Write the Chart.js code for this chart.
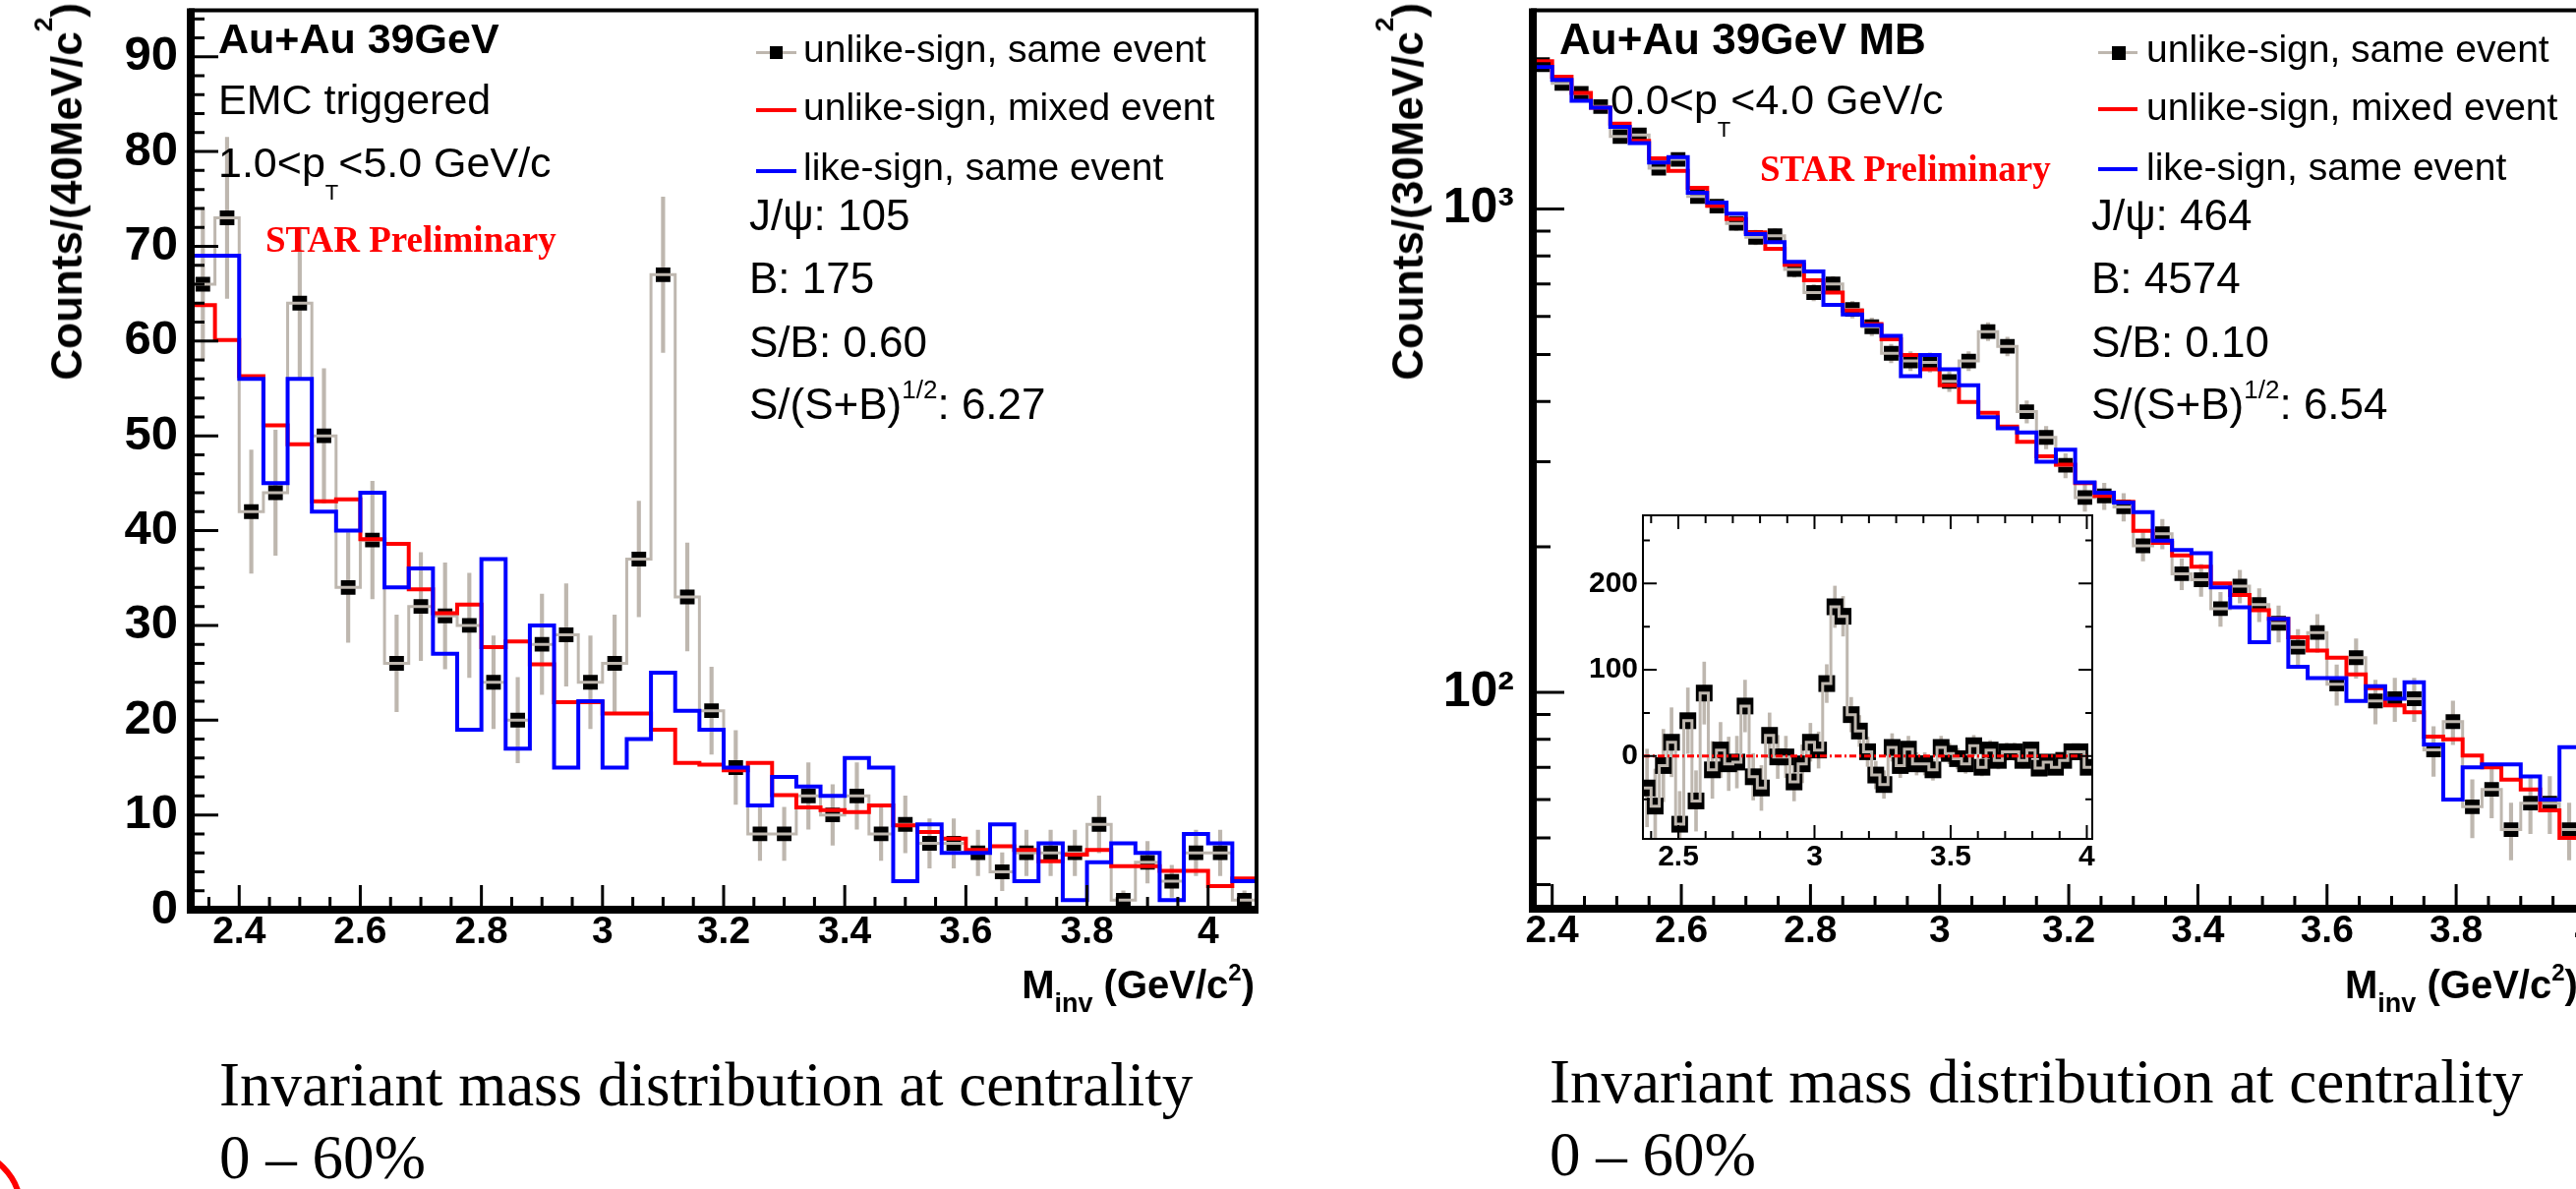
<!DOCTYPE html>
<html>
<head>
<meta charset="utf-8">
<script src="https://cdn.jsdelivr.net/npm/chart.js@4.4.1/dist/chart.umd.min.js"></script>
<style>
  html, body { margin:0; padding:0; background:#fff; }
  #wrap { position:relative; width:2620px; height:1209px; overflow:hidden; background:#fff; }
  canvas { position:absolute; }
  .t { position:absolute; white-space:nowrap; line-height:1; color:#000; z-index:5;
       font-family:'Liberation Sans', Arial, Helvetica, sans-serif; }
  .b { font-weight:bold; }
  .vt { writing-mode:vertical-rl; transform:rotate(180deg); }
  .star { font-family:'Liberation Serif', 'Times New Roman', serif; font-weight:bold; color:#f00; font-size:37px; }
  .cap { position:absolute; white-space:nowrap; font-family:'Liberation Serif', 'Times New Roman', serif;
         font-size:63px; line-height:74px; color:#000; }
  .ln { position:absolute; z-index:5; }
  sub, sup { line-height:0; }
</style>
</head>
<body>
<div id="wrap">
  <canvas id="cL" width="1300" height="1000" style="left:0;top:0"></canvas>
  <canvas id="cR" width="1320" height="1000" style="left:1380px;top:0"></canvas>
  <canvas id="cI" width="550" height="390" style="left:1590px;top:505px"></canvas>

  <!-- left panel texts -->
  <div class="t b vt" style="left:44px;bottom:822px;font-size:44px">Counts/(40MeV/c<sup style="font-size:26px;vertical-align:24px">2</sup>)</div>
  <div class="t b" style="right:1344px;top:981px;font-size:40px">M<sub style="font-size:27px;vertical-align:-14px">inv</sub> (GeV/c<sup style="font-size:24px;vertical-align:18px">2</sup>)</div>
  <div class="t b" style="left:222px;top:18px;font-size:43px">Au+Au 39GeV</div>
  <div class="t" style="left:222px;top:80px;font-size:43px">EMC triggered</div>
  <div class="t" style="left:222px;top:144px;font-size:43px">1.0&lt;p<sub style="font-size:22px;vertical-align:-23px">T</sub>&lt;5.0 GeV/c</div>
  <div class="t star" style="left:270px;top:225px">STAR Preliminary</div>

  <div class="ln" style="left:769px;top:52px;width:41px;height:3px;background:#beb7af"></div>
  <div class="ln" style="left:783px;top:47px;width:13px;height:13px;background:#000"></div>
  <div class="ln" style="left:769px;top:110px;width:41px;height:4px;background:#f00"></div>
  <div class="ln" style="left:769px;top:172px;width:41px;height:4px;background:#00f"></div>
  <div class="t" style="left:817px;top:30px;font-size:39px">unlike-sign, same event</div>
  <div class="t" style="left:817px;top:89px;font-size:39px">unlike-sign, mixed event</div>
  <div class="t" style="left:817px;top:150px;font-size:39px">like-sign, same event</div>
  <div class="t" style="left:762px;top:197px;font-size:44px">J/ψ: 105</div>
  <div class="t" style="left:762px;top:261px;font-size:44px">B: 175</div>
  <div class="t" style="left:762px;top:326px;font-size:44px">S/B: 0.60</div>
  <div class="t" style="left:762px;top:389px;font-size:44px">S/(S+B)<sup style="font-size:26px;vertical-align:21px">1/2</sup>: 6.27</div>

  <!-- right panel texts -->
  <div class="t b vt" style="left:1408px;bottom:822px;font-size:44px">Counts/(30MeV/c<sup style="font-size:26px;vertical-align:24px">2</sup>)</div>
  <div class="t b" style="left:2385px;top:981px;font-size:40px">M<sub style="font-size:27px;vertical-align:-14px">inv</sub> (GeV/c<sup style="font-size:24px;vertical-align:18px">2</sup>)</div>
  <div class="t b" style="left:1586px;top:18px;font-size:44px">Au+Au 39GeV MB</div>
  <div class="t" style="left:1638px;top:80px;font-size:43px">0.0&lt;p<sub style="font-size:22px;vertical-align:-23px">T</sub>&lt;4.0 GeV/c</div>
  <div class="t star" style="left:1790px;top:153px">STAR Preliminary</div>

  <div class="ln" style="left:2134px;top:52px;width:40px;height:3px;background:#beb7af"></div>
  <div class="ln" style="left:2148px;top:47px;width:14px;height:14px;background:#000"></div>
  <div class="ln" style="left:2134px;top:109px;width:40px;height:4px;background:#f00"></div>
  <div class="ln" style="left:2134px;top:170px;width:40px;height:4px;background:#00f"></div>
  <div class="t" style="left:2183px;top:30px;font-size:39px">unlike-sign, same event</div>
  <div class="t" style="left:2183px;top:89px;font-size:39px">unlike-sign, mixed event</div>
  <div class="t" style="left:2183px;top:150px;font-size:39px">like-sign, same event</div>
  <div class="t" style="left:2127px;top:197px;font-size:44px">J/ψ: 464</div>
  <div class="t" style="left:2127px;top:261px;font-size:44px">B: 4574</div>
  <div class="t" style="left:2127px;top:326px;font-size:44px">S/B: 0.10</div>
  <div class="t" style="left:2127px;top:389px;font-size:44px">S/(S+B)<sup style="font-size:26px;vertical-align:21px">1/2</sup>: 6.54</div>

  <!-- captions -->
  <div class="cap" style="left:223px;top:1066px">Invariant mass distribution at centrality<br>0 – 60%</div>
  <div class="cap" style="left:1576px;top:1063px">Invariant mass distribution at centrality<br>0 – 60%</div>

  <div style="position:absolute;left:-104px;top:1166px;width:128px;height:128px;box-sizing:border-box;border:6px solid #f00;border-radius:50%"></div>
</div>

<script>
// ---- left panel: EMC triggered, 40 MeV bins from 2.32 ----
const leftLo = 2.32, leftBin = 0.04;
const leftSame = [66, 73, 42, 44, 64, 50, 34, 39, 26, 32, 31, 30, 24, 20, 28, 29, 24, 26, 37, 67,
                  33, 21, 15, 8, 8, 12, 10, 12, 8, 9, 7, 7, 6, 4, 6, 6, 6, 9, 1, 5, 3, 6, 6, 1];
const leftSameErr = [8.1, 8.5, 6.5, 6.6, 8, 7.1, 5.8, 6.2, 5.1, 5.7, 5.6, 5.5, 4.9, 4.5, 5.3, 5.4, 4.9, 5.1, 6.1, 8.2,
                     5.7, 4.6, 3.9, 2.8, 2.8, 3.5, 3.2, 3.5, 2.8, 3, 2.6, 2.6, 2.4, 2, 2.4, 2.4, 2.4, 3, 1, 2.2, 1.7, 2.4, 2.4, 1];
const leftMixed = [63.8, 60.1, 56.3, 51.1, 49.1, 43.1, 43.3, 39.1, 38.6, 33.8, 31.3, 32.2, 27.7, 28.3, 25.9, 21.9, 21.9, 20.7, 20.7, 19.0,
                   15.5, 15.3, 14.7, 15.5, 12.1, 10.8, 10.5, 10.3, 11.0, 8.9, 8.2, 7.5, 6.3, 6.7, 6.3, 5.1, 5.8, 6.3, 4.6, 4.6, 4.1, 4.1, 2.5, 3.3];
const leftLike = [69, 69, 56, 45, 56, 42, 40, 44, 34, 36, 27, 19, 37, 17, 30, 15, 22, 15, 18, 25,
                  21, 19, 15, 11, 14, 13, 12, 16, 15, 3, 9, 6, 6, 9, 3, 7, 1, 5, 7, 6, 1, 8, 7, 3];
const leftXTicks = [2.4, 2.6, 2.8, 3, 3.2, 3.4, 3.6, 3.8, 4];
const leftYTicks = [0, 10, 20, 30, 40, 50, 60, 70, 80, 90];

// ---- right panel: minimum bias, 30 MeV bins from 2.37 ----
const rightLo = 2.37, rightBin = 0.03;
const rightSame = [1990, 1820, 1735, 1630, 1413, 1424, 1215, 1267, 1062, 1014, 934, 874, 881, 750, 672, 700, 620, 571, 503, 485,
                   482, 440, 485, 558, 520, 381, 337, 295, 253, 255, 242, 201, 213, 176, 171, 149, 166, 152, 139, 124,
                   133, 104, 118, 96, 97, 97, 76, 87, 58, 63, 52, 59, 59, 52];
const rightSameErr = [45, 43, 42, 40, 38, 38, 35, 36, 33, 32, 31, 30, 30, 27, 26, 26, 25, 24, 22, 22,
                      22, 21, 22, 24, 23, 20, 18, 17, 16, 16, 16, 14, 15, 13, 13, 12, 13, 12, 12, 11,
                      12, 10, 11, 10, 10, 10, 9, 9, 8, 8, 7, 8, 8, 7];
const rightMixed = [2023, 1880, 1740, 1622, 1503, 1384, 1273, 1200, 1107, 1016, 954, 895, 828, 767, 712, 672, 617, 578, 538, 499,
                    466, 432, 399, 379, 355, 330, 308, 296, 271, 255, 248, 216, 204, 192, 182, 168, 159, 148, 142, 130,
                    122, 118, 109, 102, 94, 91, 81, 80, 74, 70, 66, 63, 57, 50];
const rightLike = [1968, 1851, 1675, 1622, 1479, 1369, 1248, 1281, 1081, 1031, 979, 888, 854, 778, 743, 634, 605, 575, 547, 451,
                   499, 466, 432, 371, 352, 345, 300, 318, 272, 259, 247, 236, 206, 197, 194, 165, 150, 127, 142, 113,
                   107, 107, 96, 103, 97, 105, 78, 60, 70, 71, 71, 67, 60, 77];
const rightXTicks = [2.4, 2.6, 2.8, 3, 3.2, 3.4, 3.6, 3.8, 4];
const rightYTicks = [100, 1000];
const rightYLabels = ['10²', '10³'];
const rightYMinor = [40, 50, 60, 70, 80, 90, 200, 300, 400, 500, 600, 700, 800, 900, 2000];

// ---- inset: unlike-sign minus mixed event ----
const insetLo = 2.37, insetBin = 0.03;
const insetSig = [-37, -58, -11, 16, -79, 41, -52, 73, -16, 7, -9, -7, 58, -24, -37, 24, -1, -1, -30, -9,
                  16, 7, 84, 173, 162, 48, 29, 5, -22, -33, 10, -11, 8, -9, -9, -16, 10, 3, -3, -9,
                  12, -13, 7, -5, 5, 5, -5, 7, -14, -7, -13, -5, 5, 5, -13];
const insetErr = [45, 43, 42, 40, 38, 38, 35, 36, 33, 32, 31, 30, 30, 27, 26, 26, 25, 24, 22, 22,
                  22, 21, 22, 24, 23, 20, 18, 17, 16, 16, 16, 14, 15, 13, 13, 12, 13, 12, 12, 11,
                  12, 10, 11, 10, 10, 10, 9, 9, 8, 8, 7, 8, 8, 7, 7];
const insetZeroX = [2.37, 4.0];
const insetZeroY = [0, 0];
const insetXTicks = [2.5, 3, 3.5, 4];
const insetYTicks = [0, 100, 200];

const SANS = "'Liberation Sans', Arial, Helvetica, sans-serif";
const GRAY = '#beb7af';

function stepPoints(lo, w, vals) {
  const pts = vals.map((v, i) => ({x: lo + i * w, y: v}));
  pts.push({x: lo + vals.length * w, y: vals[vals.length - 1]});
  return pts;
}
function centerPoints(lo, w, vals) {
  return vals.map((v, i) => ({x: lo + (i + 0.5) * w, y: v}));
}
function errPoints(lo, w, vals, errs) {
  return vals.map((v, i) => ({x: lo + (i + 0.5) * w, y: [v - errs[i], v + errs[i]]}));
}

// frame + inward ROOT-style tick marks
const rootFrame = {
  id: 'rootFrame',
  afterDatasetsDraw(chart, args, o) {
    const {ctx, chartArea: a} = chart;
    const xs = chart.scales.x, ys = chart.scales.y;
    const minorLin = (s, step, majors) => {
      const out = [];
      for (let n = Math.ceil(s.min / step - 1e-6); n * step <= s.max + 1e-9; n++) {
        const v = +(n * step).toFixed(4);
        if (!majors.some(m => Math.abs(m - v) < 1e-6)) out.push(v);
      }
      return out;
    };
    const xMinor = minorLin(xs, o.xMinorStep, o.xMajor);
    const yMinor = o.yMinor || minorLin(ys, o.yMinorStep, o.yMajor);
    ctx.save();
    ctx.strokeStyle = '#000';
    ctx.lineWidth = o.tickWidth;
    ctx.beginPath();
    const xt = (v, len) => {
      const p = xs.getPixelForValue(v);
      if (p < a.left || p > a.right) return;
      ctx.moveTo(p, a.bottom); ctx.lineTo(p, a.bottom - len);
      if (o.mirror) { ctx.moveTo(p, a.top); ctx.lineTo(p, a.top + len); }
    };
    const yt = (v, len) => {
      const p = ys.getPixelForValue(v);
      if (p < a.top || p > a.bottom) return;
      ctx.moveTo(a.left, p); ctx.lineTo(a.left + len, p);
      if (o.mirror) { ctx.moveTo(a.right, p); ctx.lineTo(a.right - len, p); }
    };
    o.xMajor.forEach(v => xt(v, o.xMajorLen));
    xMinor.forEach(v => xt(v, o.xMinorLen));
    o.yMajor.forEach(v => yt(v, o.yMajorLen));
    yMinor.forEach(v => yt(v, o.yMinorLen));
    ctx.stroke();
    ctx.lineWidth = o.thin;
    ctx.strokeRect(a.left, a.top, a.right - a.left, a.bottom - a.top);
    ctx.lineWidth = o.thick;
    ctx.beginPath();
    ctx.moveTo(a.left, a.top - o.thin / 2);
    ctx.lineTo(a.left, a.bottom);
    ctx.lineTo(a.right + o.thin / 2, a.bottom);
    ctx.stroke();
    ctx.restore();
  }
};

function histSets(lo, w, same, err, mixed, like, markR) {
  return [
    {type: 'bar', data: errPoints(lo, w, same, err), backgroundColor: GRAY, borderWidth: 0,
     barThickness: 3.5, grouped: false, order: 5},
    {type: 'line', data: centerPoints(lo, w, same), showLine: false, pointStyle: 'rect',
     pointRadius: markR, pointBackgroundColor: '#000', pointBorderWidth: 0, order: 4},
    {type: 'line', data: stepPoints(lo, w, same), stepped: 'before', borderColor: GRAY, borderWidth: 3,
     pointRadius: 0, borderJoinStyle: 'miter', order: 3},
    {type: 'line', data: stepPoints(lo, w, mixed), stepped: 'before', borderColor: '#ff0000', borderWidth: 4,
     pointRadius: 0, borderJoinStyle: 'miter', order: 2},
    {type: 'line', data: stepPoints(lo, w, like), stepped: 'before', borderColor: '#0000ff', borderWidth: 4,
     pointRadius: 0, borderJoinStyle: 'miter', order: 1}
  ];
}

const common = {
  responsive: false, animation: false, devicePixelRatio: 1, events: [],
  plugins: {legend: {display: false}, tooltip: {enabled: false}}
};

function tickFont(size) { return {family: SANS, size: size, weight: 'bold'}; }
// fixed axis boxes, no label overflow padding (keeps the plot frame where the picture has it)
function fixX(h) { return s => { s.height = h; s.paddingLeft = 0; s.paddingRight = 0; s.paddingTop = 0; s.paddingBottom = 0; }; }
function fixY(w) { return s => { s.width = w; s.paddingLeft = 0; s.paddingRight = 0; s.paddingTop = 0; s.paddingBottom = 0; }; }

// left panel
new Chart(document.getElementById('cL'), {
  type: 'line',
  data: {datasets: histSets(leftLo, leftBin, leftSame, leftSameErr, leftMixed, leftLike, 10.5)},
  options: {
    ...common,
    layout: {padding: {left: 0, top: 2, right: 22, bottom: 0}},
    scales: {
      x: {type: 'linear', min: 2.32, max: 4.08, offset: false,
          grid: {display: false, drawTicks: false}, border: {display: false},
          afterBuildTicks: s => { s.ticks = leftXTicks.map(v => ({value: v})); },
          afterFit: fixX(75),
          ticks: {padding: 0, color: '#000', font: tickFont(39), autoSkip: false, maxRotation: 0,
                  callback: (v, i) => String(leftXTicks[i])}},
      y: {type: 'linear', min: 0, max: 94.9,
          grid: {display: false, drawTicks: false}, border: {display: false},
          afterBuildTicks: s => { s.ticks = leftYTicks.map(v => ({value: v})); },
          afterFit: fixY(194),
          ticks: {padding: 13, color: '#000', font: tickFont(49), autoSkip: false,
                  callback: (v, i) => String(leftYTicks[i])}}
    },
    plugins: {...common.plugins,
      rootFrame: {xMajor: leftXTicks, xMinorStep: 0.05, yMajor: leftYTicks, yMinorStep: 2,
                  xMajorLen: 25, xMinorLen: 13, yMajorLen: 28, yMinorLen: 14,
                  tickWidth: 3, thin: 4, thick: 8, mirror: false}}
  },
  plugins: [rootFrame]
});

// right panel (log y)
new Chart(document.getElementById('cR'), {
  type: 'line',
  data: {datasets: histSets(rightLo, rightBin, rightSame, rightSameErr, rightMixed, rightLike, 10.5)},
  options: {
    ...common,
    layout: {padding: {left: 0, top: 2, right: 18, bottom: 0}},
    scales: {
      x: {type: 'linear', min: 2.37, max: 4.08, offset: false,
          grid: {display: false, drawTicks: false}, border: {display: false},
          afterBuildTicks: s => { s.ticks = rightXTicks.map(v => ({value: v})); },
          afterFit: fixX(76),
          ticks: {padding: 0, color: '#000', font: tickFont(39), autoSkip: false, maxRotation: 0,
                  callback: (v, i) => String(rightXTicks[i])}},
      y: {type: 'logarithmic', min: 35.68, max: 2578,
          grid: {display: false, drawTicks: false}, border: {display: false},
          afterBuildTicks: s => { s.ticks = rightYTicks.map(v => ({value: v})); },
          afterFit: fixY(179),
          ticks: {padding: 19, color: '#000', font: tickFont(50), autoSkip: false,
                  callback: (v, i) => rightYLabels[i]}}
    },
    plugins: {...common.plugins,
      rootFrame: {xMajor: rightXTicks, xMinorStep: 0.05, yMajor: rightYTicks, yMinor: rightYMinor,
                  xMajorLen: 25, xMinorLen: 13, yMajorLen: 32, yMinorLen: 18,
                  tickWidth: 3, thin: 4, thick: 8, mirror: false}}
  },
  plugins: [rootFrame]
});

// inset
new Chart(document.getElementById('cI'), {
  type: 'line',
  data: {datasets: [
    {type: 'bar', data: errPoints(insetLo, insetBin, insetSig, insetErr), backgroundColor: GRAY, borderWidth: 0,
     barThickness: 3, grouped: false, order: 5},
    {type: 'line', data: centerPoints(insetLo, insetBin, insetSig), showLine: false, pointStyle: 'rect',
     pointRadius: 12, pointBackgroundColor: '#000', pointBorderWidth: 0, order: 4},
    {type: 'line', data: stepPoints(insetLo, insetBin, insetSig), stepped: 'before', borderColor: GRAY, borderWidth: 3,
     pointRadius: 0, borderJoinStyle: 'miter', order: 3},
    {type: 'line', data: insetZeroX.map((x, i) => ({x: x, y: insetZeroY[i]})), borderColor: '#ff0000', borderWidth: 3,
     borderDash: [7, 3, 2, 3], pointRadius: 0, order: 1}
  ]},
  options: {
    ...common,
    layout: {padding: {left: 0, top: 19, right: 12, bottom: 0}},
    scales: {
      x: {type: 'linear', min: 2.37, max: 4.02, offset: false,
          grid: {display: false, drawTicks: false}, border: {display: false},
          afterBuildTicks: s => { s.ticks = insetXTicks.map(v => ({value: v})); },
          afterFit: fixX(42),
          ticks: {padding: 1, color: '#000', font: tickFont(30), autoSkip: false, maxRotation: 0,
                  callback: (v, i) => String(insetXTicks[i])}},
      y: {type: 'linear', min: -96, max: 279,
          grid: {display: false, drawTicks: false}, border: {display: false},
          afterBuildTicks: s => { s.ticks = insetYTicks.map(v => ({value: v})); },
          afterFit: fixY(81),
          ticks: {padding: 5, color: '#000', font: tickFont(30), autoSkip: false,
                  callback: (v, i) => String(insetYTicks[i])}}
    },
    plugins: {...common.plugins,
      rootFrame: {xMajor: insetXTicks, xMinorStep: 0.1, yMajor: insetYTicks, yMinorStep: 50,
                  xMajorLen: 14, xMinorLen: 8, yMajorLen: 14, yMinorLen: 7,
                  tickWidth: 2, thin: 2, thick: 2, mirror: true}}
  },
  plugins: [rootFrame]
});
</script>
</body>
</html>
